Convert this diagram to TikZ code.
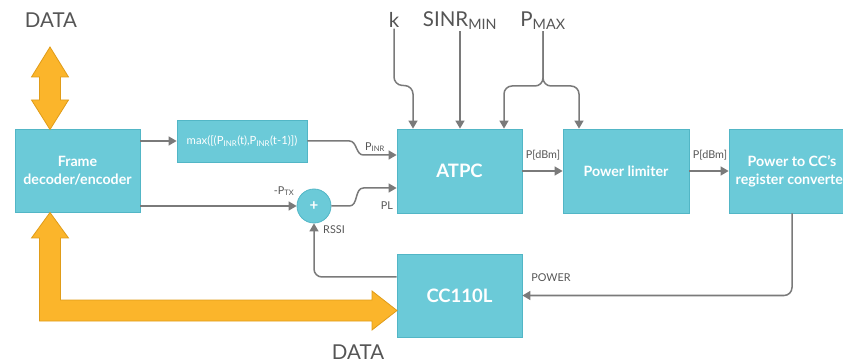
\documentclass[tikz,border=0pt]{standalone}
\usepackage{fontspec}
\setmainfont{Lato}
\usetikzlibrary{positioning, arrows.meta, calc}
\definecolor{atpcTeal}{HTML}{6BCAD8}
\definecolor{atpcTealEdge}{HTML}{52B6C6}
\definecolor{atpcOrange}{HTML}{FBB52B}
\definecolor{atpcOrangeEdge}{HTML}{E09C18}
\definecolor{atpcLine}{HTML}{7A7A7A}
\definecolor{atpcText}{HTML}{555555}

\begin{document}
\begin{tikzpicture}[
    x=1pt, y=-1pt,
    blockbox/.style={draw=atpcTealEdge, line width=0.8pt, fill=atpcTeal, text=white, align=center, inner sep=2pt,
                     font=\fontsize{14.2}{18}\selectfont\bfseries},
    bigblock/.style={blockbox, font=\fontsize{18.5}{20}\selectfont\bfseries},
    sigline/.style={draw=atpcLine, line width=1.5pt, -{Triangle[length=8pt, width=9pt]}},
    siglabel/.style={text=atpcText, font=\fontsize{10.8}{12}\selectfont, inner sep=1pt},
    toplabel/.style={text=atpcText, font=\fontsize{20.5}{23}\selectfont, inner sep=1pt},
    databus/.style={fill=atpcOrange, draw=atpcOrangeEdge, line width=0.8pt, line join=miter}
]
\useasboundingbox (0,0) rectangle (843,363);
\clip (0,0) rectangle (843,363);

% ============================
% Blocks
% ============================
\node[blockbox, minimum width=125pt, minimum height=83pt] (frame) at (77.5,171) {Frame\\decoder/encoder};
\node[blockbox, minimum width=130pt, minimum height=42pt, font=\fontsize{11.3}{13}\selectfont] (mx) at (242,141)
    {max([(P\textsubscript{INR}(t),P\textsubscript{INR}(t-1)])};
\node[bigblock, minimum width=125pt, minimum height=84pt] (atpc) at (459.5,171) {ATPC};
\node[blockbox, minimum width=126pt, minimum height=84pt] (lim) at (626,171) {Power limiter};
\node[blockbox, minimum width=126pt, minimum height=84pt] (conv) at (792,171) {Power to CC's\\register converter};
\node[bigblock, minimum width=125pt, minimum height=83pt] (cc) at (459.5,295.5) {CC110L};
\node[circle, draw=atpcTealEdge, line width=0.8pt, fill=atpcTeal, text=white, minimum size=34pt, inner sep=0pt,
      font=\fontsize{15}{15}\selectfont\bfseries] (sum) at (314,206) {+};

% ============================
% Parameters on top
% ============================
\node[toplabel] (klab) at (394,20) {k};
\node[toplabel] (sinr) at (460,21) {SINR\textsubscript{MIN}};
\node[toplabel] (pmax) at (543,21) {P\textsubscript{MAX}};
\coordinate (split) at (543,86);

\draw[sigline, rounded corners=8pt] (klab.south) -- (394,85) -- ([xshift=-46.5pt]atpc.north |- split) -- ([xshift=-46.5pt]atpc.north);
\draw[sigline] (sinr.south) -- (sinr.south |- atpc.north);
\draw[sigline, rounded corners=8pt] (pmax.south) -- (split) -- ([xshift=44.5pt]atpc.north |- split) -- ([xshift=44.5pt]atpc.north);
\draw[sigline, rounded corners=8pt] (pmax.south) -- (split) -- ([xshift=-47pt]lim.north |- split) -- ([xshift=-47pt]lim.north);

% ============================
% Signal connectors
% ============================
\draw[sigline] (frame.east |- mx.west) -- (mx.west);
\draw[sigline] (frame.east |- sum.west) -- (sum.west);
\node[siglabel] at (284,191) {-P\textsubscript{TX}};

\draw[sigline] (mx.east) -- ++(42,0) to[out=0, in=180] ++(14,14) -- ([yshift=16pt]atpc.west);
\node[siglabel] at (375,147) {P\textsubscript{INR}};

\draw[sigline] (sum.east) -- ++(18,0) to[out=0, in=180] ++(14,-18) -- ([yshift=-17pt]atpc.west);
\node[siglabel] at (387,206) {PL};

\draw[sigline, rounded corners=8pt] ([yshift=18.5pt]cc.west) -| (sum.south);
\node[siglabel] at (334,230) {RSSI};

\draw[sigline] (atpc.east) -- (lim.west);
\node[siglabel] at (543,155) {P[dBm]};
\draw[sigline] (lim.east) -- (conv.west);
\node[siglabel] at (710,155) {P[dBm]};

\draw[sigline, rounded corners=8pt] (conv.south) |- (cc.east);
\node[siglabel] at (551,278) {POWER};

% ============================
% Data buses
% ============================
\node[toplabel] (dtop) at (51,20) {DATA};
\node[toplabel] (dbot) at (358,352) {DATA};
\filldraw[databus] (50,47) -- (68.5,77) -- (60.5,77) -- (60.5,100) -- (68.5,100) -- (50,129.5)
    -- (31.5,100) -- (39.5,100) -- (39.5,77) -- (31.5,77) -- cycle;
\filldraw[databus] (50,212.5) -- (68.5,238) -- (60.5,238) -- (60.5,300) -- (372,300) -- (372,291)
    -- (397,310.5) -- (372,330) -- (372,321) -- (39.5,321) -- (39.5,238) -- (31.5,238) -- cycle;

\end{tikzpicture}
\end{document}
